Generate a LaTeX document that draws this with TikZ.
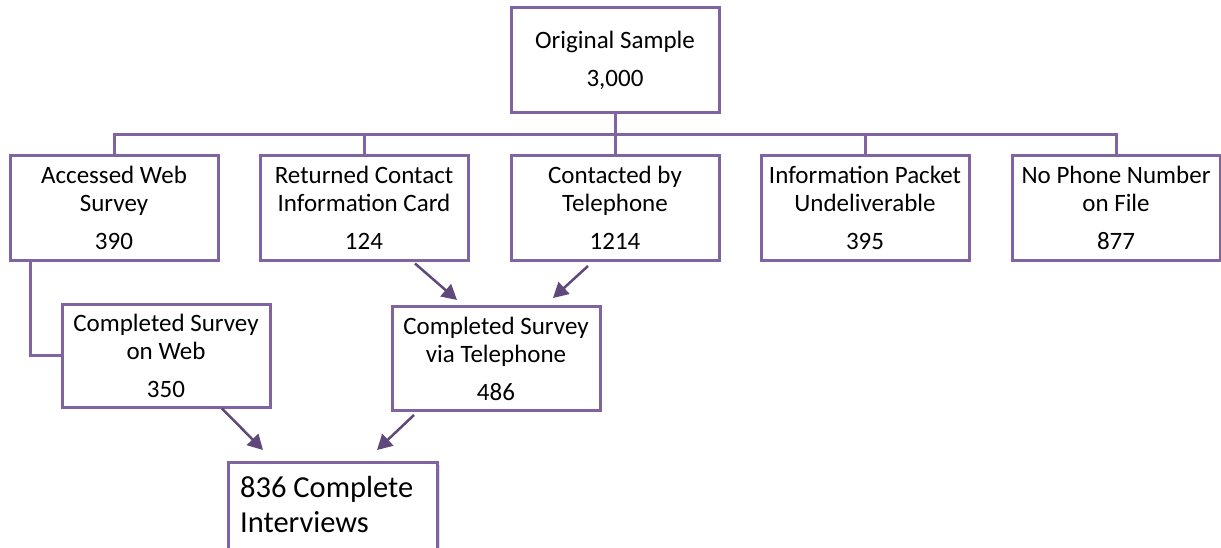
\documentclass[tikz,border=0pt]{standalone}
\usepackage{fontspec}
\setmainfont{Carlito}
\usetikzlibrary{arrows.meta,calc,shadows}
\definecolor{boxc}{HTML}{8064A2}
\definecolor{arrc}{HTML}{5F497A}
\begin{document}
\begin{tikzpicture}[x=1pt,y=-1pt,
  box/.style={draw=boxc,line width=3pt,fill=white,minimum width=208pt,minimum height=105pt,
    inner sep=0pt,align=center,font=\fontsize{25}{28}\selectfont},
  tree/.style={draw=boxc,line width=3pt},
  arr/.style={draw=arrc,line width=2.5pt,-{Triangle[length=15pt,width=16pt]}}]
\useasboundingbox (0,0) rectangle (1221,548);
\node[box] (orig) at (615,60.5) {Original Sample\\[10pt]3,000};
\node[box] (b1) at (114,208) {Accessed Web\\Survey\\[10pt]390};
\node[box] (b2) at (364,208) {Returned Contact\\Information Card\\[10pt]124};
\node[box] (b3) at (615,208) {Contacted by\\Telephone\\[10pt]1214};
\node[box] (b4) at (865,208) {Information Packet\\Undeliverable\\[10pt]395};
\node[box] (b5) at (1116,208) {No Phone Number\\on File\\[10pt]877};
\node[box,minimum height=103pt] (web) at (166,355.5) {Completed Survey\\on Web\\[10pt]350};
\node[box,minimum height=104pt] (tel) at (496,358.5) {Completed Survey\\via Telephone\\[10pt]486};
\node[box,minimum width=209pt,minimum height=100pt,anchor=north west,
  drop shadow={opacity=0.25,shadow xshift=2pt,shadow yshift=-2pt}] (fin) at (227,461) {};
\node[anchor=north west,inner sep=0pt,align=left,font=\fontsize{30.5}{35}\selectfont] (fint) at (240,476) {836 Complete\\Interviews};
\coordinate (bus) at (615,135);
\draw[tree] (orig.south) -- (bus);
\draw[tree] (b1.north) -- (b1.north |- bus) -- (b5.north |- bus) -- (b5.north);
\draw[tree] (b2.north) -- (b2.north |- bus);
\draw[tree] (b3.north) -- (b3.north |- bus);
\draw[tree] (b4.north) -- (b4.north |- bus);
\draw[tree] ($(b1.south west)+(22,0)$) |- (web.west);
\draw[arr] ($(b2.south)+(51,1.5)$) -- ($(tel.north)+(-39,-5)$);
\draw[arr] ($(b3.south)+(-27,4)$) -- ($(tel.north)+(57,-7)$);
\draw[arr] ($(web.south)+(56,0)$) -- ($(fin.north west)+(36,-11)$);
\draw[arr] ($(tel.south)+(-82,3)$) -- ($(fin.north west)+(150,-11)$);
\end{tikzpicture}
\end{document}
